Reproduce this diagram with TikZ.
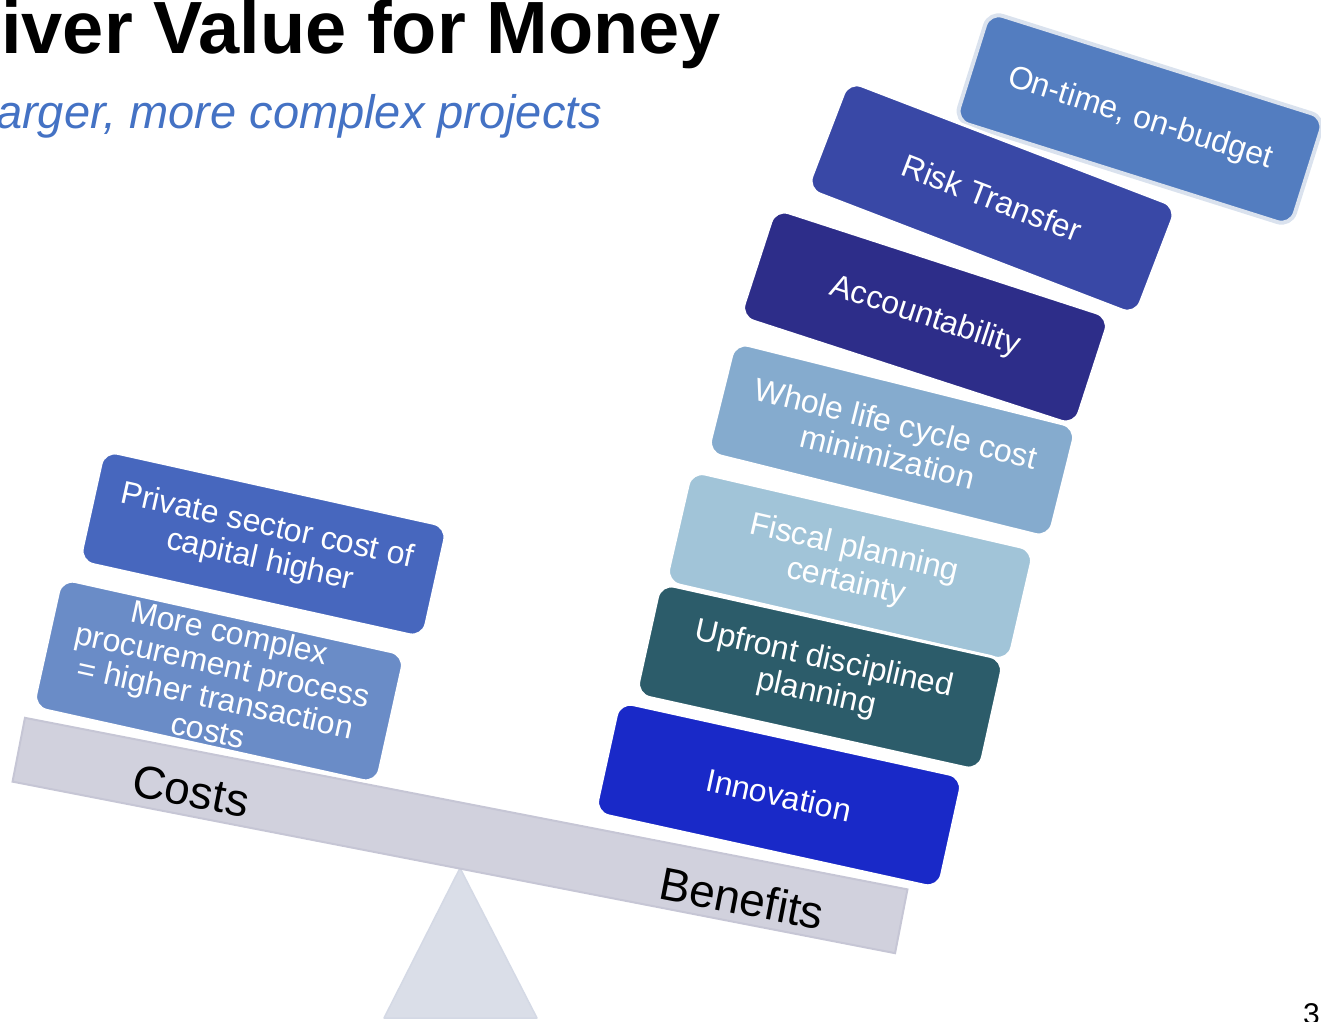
\documentclass[tikz,border=0pt]{standalone}
\usepackage{fontspec}
\setmainfont{Liberation Sans}
\definecolor{subblue}{RGB}{68,114,196}
\definecolor{beamfill}{RGB}{209,209,221}
\definecolor{beamline}{RGB}{198,198,213}
\definecolor{pivotfill}{RGB}{218,222,232}
\definecolor{pivotline}{RGB}{212,217,229}
\definecolor{ontimefill}{RGB}{83,125,192}
\definecolor{ontimeline}{RGB}{218,226,238}
\definecolor{riskfill}{RGB}{57,72,166}
\definecolor{accfill}{RGB}{45,45,137}
\definecolor{wholefill}{RGB}{133,171,206}
\definecolor{fiscalfill}{RGB}{161,196,216}
\definecolor{upfrontfill}{RGB}{44,92,106}
\definecolor{innovfill}{RGB}{25,41,200}
\definecolor{privfill}{RGB}{71,103,190}
\definecolor{procfill}{RGB}{106,140,199}
\begin{document}
\begin{tikzpicture}[x=1pt,y=-1pt,
  itembox/.style={rounded corners=14pt, draw=white, line width=3pt,
    minimum width=352pt, minimum height=114pt, inner sep=0pt,
    align=center, text=white, font=\fontsize{32}{34.5}\selectfont},
  sidelabel/.style={inner sep=0pt, font=\fontsize{46}{50}\selectfont, rotate=-11}]
\useasboundingbox (0,0) rectangle (1321,1021);

% heading
\node[anchor=base west, inner sep=0pt, font=\fontsize{74}{80}\selectfont\bfseries]
  (title) at (1,53) {iver Value for Money};
\node[anchor=base west, inner sep=0pt, text=subblue, font=\fontsize{47}{50}\selectfont\itshape]
  (subtitle) at (-4,128) {arger, more complex projects};

% fulcrum and beam
\coordinate (apex) at (460,868);
\coordinate (baseL) at (384,1018);
\coordinate (baseR) at (537,1018);
\filldraw[fill=pivotfill, draw=pivotline, line width=1.5pt, line join=round]
  (apex) -- (baseR) -- (baseL) -- cycle;
\node[draw=beamline, fill=beamfill, line width=2pt, minimum width=899pt,
  minimum height=65pt, inner sep=0pt, rotate=-11] (beam) at (460,835.5) {};

% cost side
\node[itembox, fill=privfill, rotate=-12.5] (priv) at (263.5,544)
  {Private sector cost of\\capital higher};
\node[itembox, fill=procfill, rotate=-12.5, minimum height=132pt,
  font=\fontsize{32}{33.5}\selectfont] (proc) at (219,681)
  {More complex\\procurement process\\= higher transaction\\costs};

% benefit side, top to bottom
\node[itembox, fill=ontimefill, draw=ontimeline, line width=4pt, rotate=-17.5]
  (ontime) at (1140,119) {On-time, on-budget};
\node[itembox, fill=riskfill, rotate=-21, minimum height=116pt] (risk) at (992,198) {Risk Transfer};
\node[itembox, fill=accfill, rotate=-18] (acc) at (925,317) {Accountability};
\node[itembox, fill=wholefill, rotate=-14] (whole) at (892,440)
  {Whole life cycle cost\\minimization};
\node[itembox, fill=fiscalfill, rotate=-13] (fiscal) at (850,566)
  {Fiscal planning\\certainty};
\node[itembox, fill=upfrontfill, rotate=-12.5] (upfront) at (820,677)
  {Upfront disciplined\\planning};
\node[itembox, fill=innovfill, rotate=-12.4] (innov) at (779,795) {Innovation};

% beam labels
\node[sidelabel] (costs) at (191,791) {Costs};
\node[sidelabel] (benefits) at (742,898) {Benefits};

% page number
\node[anchor=north west, inner sep=0pt, font=\fontsize{30}{30}\selectfont]
  (pagenum) at (1303,1003) {3};
\end{tikzpicture}
\end{document}
